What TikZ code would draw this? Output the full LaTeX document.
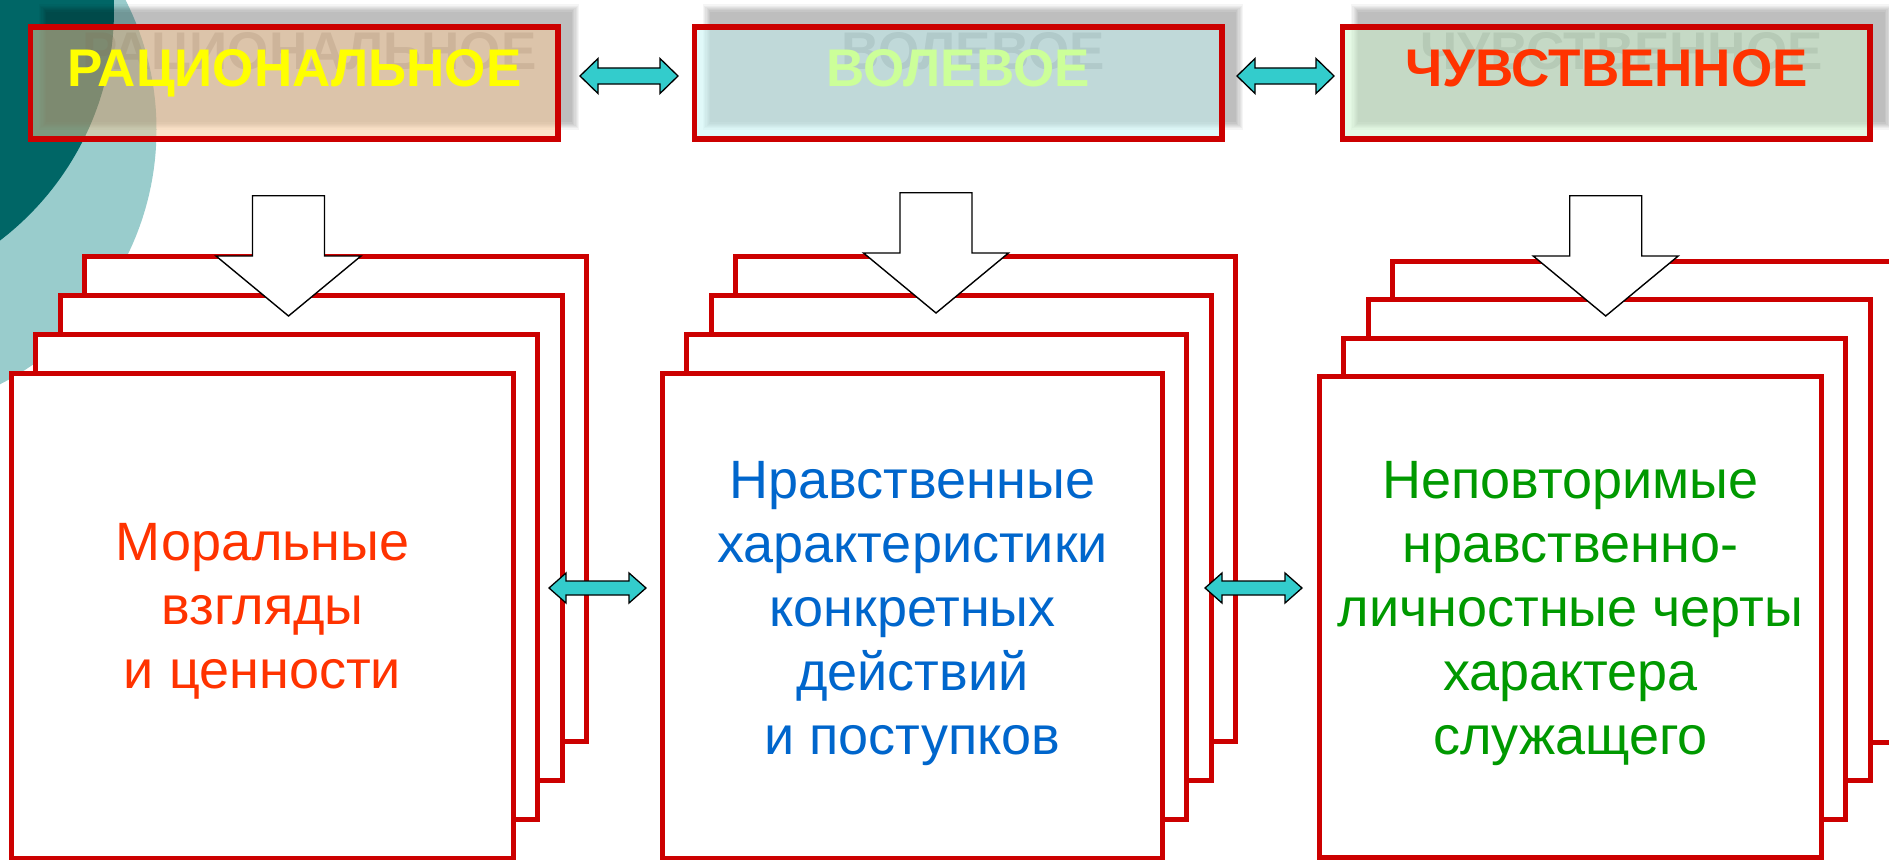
\documentclass[tikz,border=0pt]{standalone}
\usepackage{fontspec}
\setmainfont{Liberation Sans}
\usetikzlibrary{calc}

\definecolor{framered}{HTML}{CC0000}
\definecolor{tealdark}{HTML}{006666}
\definecolor{teallight}{HTML}{99CCCC}
\definecolor{arrowcyan}{HTML}{33CCCC}
\definecolor{tanfill}{HTML}{FBCA97}
\definecolor{aquafill}{HTML}{C3F5F5}
\definecolor{mintfill}{HTML}{CDF5CD}
\definecolor{txtyellow}{HTML}{FFFF00}
\definecolor{txtlime}{HTML}{CCFF99}
\definecolor{txtorange}{HTML}{FF3300}
\definecolor{txtblue}{HTML}{0066CC}
\definecolor{txtgreen}{HTML}{009900}

\tikzset{
  headbox/.style={draw=framered, line width=5.5pt, minimum width=527.5pt,
    minimum height=112pt, inner sep=0pt, outer sep=0pt, fill opacity=0.5},
  headtext/.style={font=\bfseries\fontsize{53}{60}\selectfont, anchor=base, inner sep=0pt},
  ghost/.style={headtext, text=black, text opacity=0.16},
  card/.style={draw=framered, line width=5pt, fill=white, inner sep=0pt,
    outer sep=0pt, anchor=north west, minimum height=485pt},
  cardtext/.style={font=\fontsize{54}{64}\selectfont, align=center, anchor=base, inner sep=0pt},
  linkarrow/.style={draw=black, line width=1.3pt, fill=arrowcyan, line join=miter},
  downblock/.style={draw=black, line width=1.4pt, fill=white, line join=miter},
}

% blurred drop shadow behind a heading box: x1 y1 x2 y2
\newcommand\softshadow[4]{%
  \foreach \k in {0,...,6}{%
    \fill[black, opacity=0.04] (#1+\k*1.2-3.6, #2+\k*1.2-3.6) rectangle (#3-\k*1.2+3.6, #4-\k*1.2+3.6);
  }%
}
% horizontal two-headed block arrow between two tips
\newcommand\blockpair[5]{%
  \draw[linkarrow] (#1) -- ($(#1)+(#3,-#4)$) -- ($(#1)+(#3,-#5)$) -- ($(#2)+(-#3,-#5)$)
    -- ($(#2)+(-#3,-#4)$) -- (#2) -- ($(#2)+(-#3,#4)$) -- ($(#2)+(-#3,#5)$)
    -- ($(#1)+(#3,#5)$) -- ($(#1)+(#3,#4)$) -- cycle;}
% downward block arrow from shaft top to tip
\newcommand\blockdown[2]{%
  \draw[downblock] ($(#1)+(-36,0)$) -- ($(#2)+(-36,-60)$) -- ($(#2)+(-72.5,-60)$) -- (#2)
    -- ($(#2)+(72.5,-60)$) -- ($(#2)+(36,-60)$) -- ($(#1)+(36,0)$) -- cycle;}

\begin{document}
\begin{tikzpicture}[x=1pt, y=-1pt]
\clip (0,0) rectangle (1889,859);
\fill[white] (0,0) rectangle (1889,859);

% corner decoration
\fill[teallight] (-129,129.5) circle[radius=285.5pt];
\fill[tealdark] (-176,10) circle[radius=290pt];

% shadows of the heading boxes
\softshadow{42.6}{8}{575.6}{126}
\softshadow{706.5}{8}{1239.5}{126}
\softshadow{1354.7}{8}{1888.7}{126}
\node[ghost] (g1) at (309.35,70) {РАЦИОНАЛЬНОЕ};
\node[ghost] (g2) at (973.25,70) {ВОЛЕВОЕ};
\node[ghost] (g3) at (1621.45,70) {ЧУВСТВЕННОЕ};

% heading boxes
\node[headbox, fill=tanfill] (r1) at (294.35,83) {};
\node[headbox, fill=aquafill] (r2) at (958.25,83) {};
\node[headbox, fill=mintfill] (r3) at (1606.45,83) {};
\node[headtext, text=txtyellow] (h1) at (294.35,86) {РАЦИОНАЛЬНОЕ};
\node[headtext, text=txtlime] (h2) at (958.25,86) {ВОЛЕВОЕ};
\node[headtext, text=txtorange] (h3) at (1606.45,86) {ЧУВСТВЕННОЕ};

% links between the headings
\coordinate (a1l) at (580,76);   \coordinate (a1r) at (678,76);
\coordinate (a2l) at (1237,76);  \coordinate (a2r) at (1334,76);
\blockpair{a1l}{a1r}{18}{17.5}{8}
\blockpair{a2l}{a2r}{18}{17.5}{8}

% stacked cards
\foreach \k in {3,2,1,0}{
  \node[card, minimum width=502pt] (s1\k) at (11.5+24.3*\k, 373-38.8*\k) {};
}
\foreach \k in {3,2,1,0}{
  \node[card, minimum width=500pt] (s2\k) at (662.5+24.3*\k, 373-38.8*\k) {};
}
\foreach \k in {3,2,1,0}{
  \node[card, minimum width=502pt, minimum height=481pt] (s3\k) at (1319.5+24.3*\k, 376.5-38.5*\k) {};
}

% arrows from headings down to the cards
\coordinate (d1s) at (288.5,195.7);  \coordinate (d1e) at (288.5,316);
\coordinate (d2s) at (936,192.7);    \coordinate (d2e) at (936,313);
\coordinate (d3s) at (1605.7,195.7); \coordinate (d3e) at (1605.7,316);
\blockdown{d1s}{d1e}
\blockdown{d2s}{d2e}
\blockdown{d3s}{d3e}

% links between the card stacks
\coordinate (b1l) at (549,588);  \coordinate (b1r) at (646,588);
\coordinate (b2l) at (1205,588); \coordinate (b2r) at (1302,588);
\blockpair{b1l}{b1r}{17}{15}{7}
\blockpair{b2l}{b2r}{17}{15}{7}

% card texts (base anchor sits on the last line)
\node[cardtext, text=txtorange] (t1) at (262.5,688) {Моральные\\взгляды\\и ценности};
\node[cardtext, text=txtblue] (t2) at (912.5,754) {Нравственные\\характеристики\\конкретных\\действий\\и поступков};
\node[cardtext, text=txtgreen] (t3) at (1570.5,754) {Неповторимые\\нравственно-\\личностные черты\\характера\\служащего};
\end{tikzpicture}
\end{document}
